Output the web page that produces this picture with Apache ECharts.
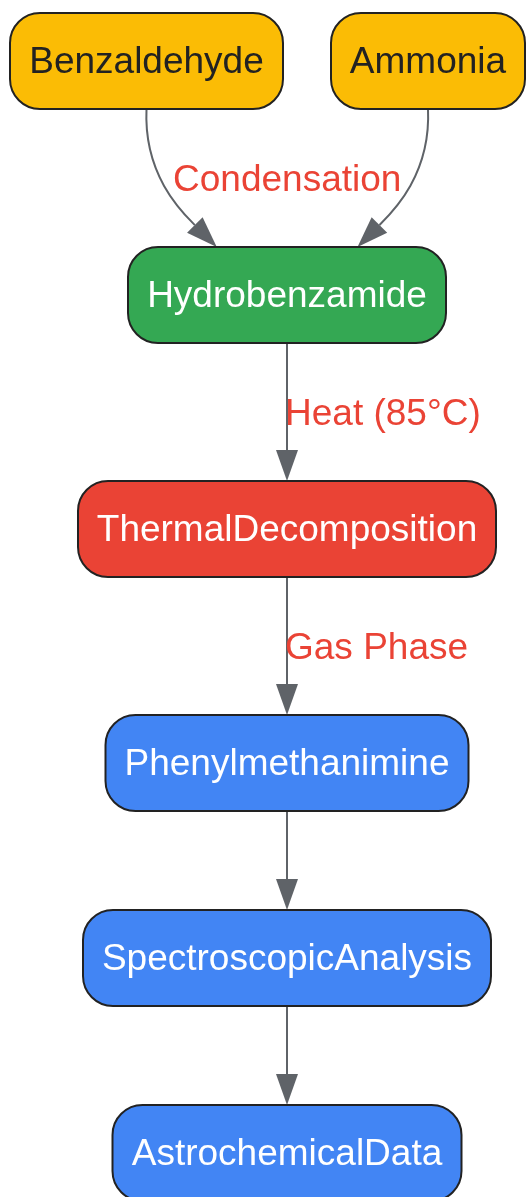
<!DOCTYPE html>
<html>
<head>
<meta charset="utf-8">
<script src="https://cdn.jsdelivr.net/npm/echarts@6/dist/echarts.min.js"></script>
<style>
  html, body { margin: 0; padding: 0; background: #fff; }
  #chart { width: 527px; height: 1197px; }
</style>
</head>
<body>
<div id="chart"></div>
<script>
// 节点
const nodeNames = ["Benzaldehyde", "Ammonia", "Hydrobenzamide", "ThermalDecomposition",
  "Phenylmethanimine", "SpectroscopicAnalysis", "AstrochemicalData"];
const nodeRanks = [0, 0, 1, 2, 3, 4, 5];
const nodeKinds = ["reactant", "reactant", "intermediate", "process", "product", "product", "product"];

// 连线: 起点, 终点, 标签
const edgeFrom = [0, 1, 2, 3, 4, 5];
const edgeTo = [2, 2, 3, 4, 5, 6];
const edgeLabels = ["Condensation", "Condensation", "Heat (85°C)", "Gas Phase", "", ""];

// 样式
const fillByKind = { reactant: "#fbbc05", intermediate: "#34a853", process: "#ea4335", product: "#4285f4" };
const textByKind = { reactant: "#222222", intermediate: "#ffffff", process: "#ffffff", product: "#ffffff" };
const FONT = '37px "Liberation Sans", Arial, sans-serif';
const NODE_H = 96;
const EDGE_COLOR = "#5f6368";
const LABEL_COLOR = "#ea4335";

// 布局 (dagre 风格, 自上而下)
const ctx = document.createElement("canvas").getContext("2d");
ctx.font = FONT;
const nodeW = nodeNames.map((n) => Math.round(ctx.measureText(n).width) + 38);

const maxRank = Math.max(...nodeRanks);
const rankY = [61];
for (let r = 1; r <= maxRank; r++) {
  const labelled = edgeTo.some((t, k) => nodeRanks[t] === r && edgeLabels[k]);
  rankY[r] = rankY[r - 1] + NODE_H + (labelled ? 138 : 99);
}
const CHAIN_X = 287;
const nodeX = [];
for (let r = 0; r <= maxRank; r++) {
  const ids = nodeNames.map((_, i) => i).filter((i) => nodeRanks[i] === r);
  if (ids.length === 1) {
    nodeX[ids[0]] = CHAIN_X;
  } else {
    let left = 10;
    ids.forEach((i) => {
      nodeX[i] = left + nodeW[i] / 2;
      left += nodeW[i] + 48;
    });
  }
}
const nodeData = nodeNames.map((_, i) => [nodeX[i], rankY[nodeRanks[i]], nodeW[i], i]);

// 连线几何
function edgeGeom(k) {
  const s = edgeFrom[k], t = edgeTo[k];
  const x0 = nodeX[s], y0 = rankY[nodeRanks[s]] + NODE_H / 2;
  const x1 = nodeX[t] + (nodeX[s] - nodeX[t]) * 0.5, y1 = rankY[nodeRanks[t]] - NODE_H / 2;
  const dir = Math.sign(x1 - x0);
  const p1 = [x0 - dir * 3, y0 + 66];
  const p2 = [x1 - dir * 35, y1 - 35];
  return { p0: [x0, y0], p1, p2, p3: [x1, y1], curved: dir !== 0 };
}
function bez(g, t) {
  const u = 1 - t;
  return [0, 1].map((j) => u * u * u * g.p0[j] + 3 * u * u * t * g.p1[j] + 3 * u * t * t * g.p2[j] + t * t * t * g.p3[j]);
}
const edgeData = edgeFrom.map((_, k) => [k]);

// 标签 (同一目标+同一标签只画一次)
const labelData = [];
const labelTexts = [];
const seen = {};
edgeLabels.forEach((lab, k) => {
  if (!lab) return;
  const key = edgeTo[k] + "|" + lab;
  if (seen[key]) return;
  seen[key] = true;
  const ks = edgeLabels.map((l, j) => j).filter((j) => edgeLabels[j] === lab && edgeTo[j] === edgeTo[k]);
  const gs = ks.map((j) => edgeGeom(j));
  const mx = gs.reduce((a, g) => a + bez(g, 0.5)[0], 0) / gs.length;
  const my = gs.reduce((a, g) => a + (g.p0[1] + g.p3[1]) / 2, 0) / gs.length;
  labelData.push([mx, my + 3, ks.length > 1 || gs[0].curved ? 0 : 1, labelTexts.length]);
  labelTexts.push(lab);
});

const chart = echarts.init(document.getElementById("chart"));
const option = {
  animation: false,
  grid: { left: 0, right: 0, top: 0, bottom: 0 },
  xAxis: { type: "value", min: 0, max: 527, show: false },
  yAxis: { type: "value", min: 0, max: 1197, inverse: true, show: false },
  series: [
    {
      type: "custom",
      coordinateSystem: "cartesian2d",
      data: edgeData,
      z: 1,
      renderItem: function (params, api) {
        const g = edgeGeom(api.value(0));
        const P = [g.p0, g.p1, g.p2, g.p3].map((p) => api.coord(p));
        let dx = P[3][0] - P[2][0], dy = P[3][1] - P[2][1];
        const len = Math.hypot(dx, dy);
        dx /= len; dy /= len;
        const L = 31, H = 11;
        const bx = P[3][0] - dx * L, by = P[3][1] - dy * L;
        return {
          type: "group",
          children: [
            {
              type: "bezierCurve",
              shape: {
                x1: P[0][0], y1: P[0][1], cpx1: P[1][0], cpy1: P[1][1],
                cpx2: P[2][0], cpy2: P[2][1], x2: bx, y2: by,
              },
              style: { stroke: EDGE_COLOR, lineWidth: 2, fill: null },
            },
            {
              type: "polygon",
              shape: { points: [[P[3][0], P[3][1]], [bx - dy * H, by + dx * H], [bx + dy * H, by - dx * H]] },
              style: { fill: EDGE_COLOR },
            },
          ],
        };
      },
    },
    {
      type: "custom",
      coordinateSystem: "cartesian2d",
      data: labelData,
      z: 2,
      renderItem: function (params, api) {
        const c = api.coord([api.value(0), api.value(1)]);
        const leftAligned = api.value(2) === 1;
        return {
          type: "text",
          style: {
            text: labelTexts[api.value(3)],
            x: leftAligned ? c[0] - 2 : c[0],
            y: c[1],
            align: leftAligned ? "left" : "center",
            verticalAlign: "middle",
            font: FONT,
            fill: LABEL_COLOR,
          },
        };
      },
    },
    {
      type: "custom",
      coordinateSystem: "cartesian2d",
      data: nodeData,
      z: 3,
      renderItem: function (params, api) {
        const c = api.coord([api.value(0), api.value(1)]);
        const sz = api.size([api.value(2), NODE_H]);
        const i = api.value(3);
        const kind = nodeKinds[i];
        return {
          type: "group",
          children: [
            {
              type: "rect",
              shape: { x: c[0] - sz[0] / 2, y: c[1] - sz[1] / 2, width: sz[0], height: sz[1], r: 30 },
              style: { fill: fillByKind[kind], stroke: "#222222", lineWidth: 2 },
            },
            {
              type: "text",
              style: {
                text: nodeNames[i], x: c[0], y: c[1] + 2,
                align: "center", verticalAlign: "middle",
                font: FONT, fill: textByKind[kind],
              },
            },
          ],
        };
      },
    },
  ],
};
chart.setOption(option);
</script>
</body>
</html>
